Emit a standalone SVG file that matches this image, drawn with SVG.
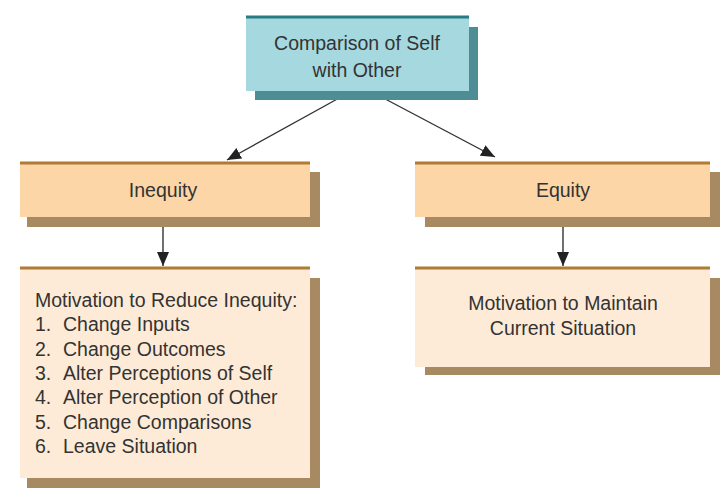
<svg xmlns="http://www.w3.org/2000/svg" width="726" height="495" viewBox="0 0 726 495">
<defs>
<style>
text{font-family:"Liberation Sans",Arial,sans-serif;font-size:19.5px;fill:#333}
.c{text-anchor:middle}
.tshadow{fill:#4f8d94}
.tface{fill:#a5d9df}
.ttop{stroke:#2b7b83;stroke-width:3}
.oshadow{fill:#a88a62}
.oface{fill:#fcd6a6}
.lface{fill:#fdebd7}
.otop{stroke:#b27a34;stroke-width:3}
.conn{stroke:#333;stroke-width:1.4;fill:none;marker-end:url(#ah)}
</style>
<marker id="ah" viewBox="0 0 14 12" refX="14" refY="6" markerWidth="14" markerHeight="12" markerUnits="userSpaceOnUse" orient="auto">
<path d="M0,0 L14,6 L0,12 Z" fill="#222"/>
</marker>
</defs>
<rect width="726" height="495" fill="#fff"/>
<g id="connectors">
<line class="conn" x1="350" y1="92" x2="227" y2="160"/>
<line class="conn" x1="372" y1="92" x2="495" y2="157"/>
<line class="conn" x1="163" y1="217" x2="163" y2="266"/>
<line class="conn" x1="563" y1="217" x2="563" y2="266"/>
</g>
<g id="comparison">
<rect class="tshadow" x="255" y="27" width="223" height="73"/>
<rect class="tface" x="246" y="16" width="223" height="75"/>
<line class="ttop" x1="246" y1="17" x2="469" y2="17"/>
<text class="c" x="357" y="50">Comparison of Self</text>
<text class="c" x="357" y="77">with Other</text>
</g>
<g id="inequity">
<rect class="oshadow" x="27" y="172" width="293" height="55"/>
<rect class="oface" x="20" y="162" width="290" height="55"/>
<line class="otop" x1="20" y1="163" x2="310" y2="163"/>
<text class="c" x="163" y="197">Inequity</text>
</g>
<g id="equity">
<rect class="oshadow" x="425" y="172" width="295" height="55"/>
<rect class="oface" x="415" y="162" width="295" height="55"/>
<line class="otop" x1="415" y1="163" x2="710" y2="163"/>
<text class="c" x="563" y="197">Equity</text>
</g>
<g id="reduce">
<rect class="oshadow" x="27" y="278" width="293" height="210"/>
<rect class="lface" x="20" y="267" width="290" height="211"/>
<line class="otop" x1="20" y1="268" x2="310" y2="268"/>
<text x="35" y="307">Motivation to Reduce Inequity:</text>
<text x="35" y="331">1.</text><text x="63" y="331">Change Inputs</text>
<text x="35" y="355.5">2.</text><text x="63" y="355.5">Change Outcomes</text>
<text x="35" y="380">3.</text><text x="63" y="380">Alter Perceptions of Self</text>
<text x="35" y="404">4.</text><text x="63" y="404">Alter Perception of Other</text>
<text x="35" y="428.5">5.</text><text x="63" y="428.5">Change Comparisons</text>
<text x="35" y="453">6.</text><text x="63" y="453">Leave Situation</text>
</g>
<g id="maintain">
<rect class="oshadow" x="425" y="278" width="295" height="97"/>
<rect class="lface" x="415" y="267" width="295" height="100"/>
<line class="otop" x1="415" y1="268" x2="710" y2="268"/>
<text class="c" x="563" y="310">Motivation to Maintain</text>
<text class="c" x="563" y="335">Current Situation</text>
</g>
</svg>
